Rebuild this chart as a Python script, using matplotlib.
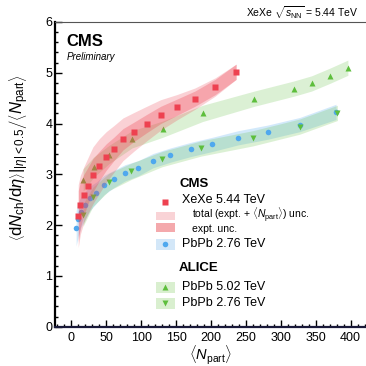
import matplotlib
matplotlib.use("Agg")
import matplotlib.pyplot as plt
from matplotlib.patches import Rectangle
from matplotlib.ticker import MultipleLocator
import numpy as np

plt.rcParams['font.family'] = ['Liberation Sans', 'DejaVu Sans']
plt.rcParams['mathtext.fontset'] = 'custom'
plt.rcParams['mathtext.rm'] = 'Liberation Sans'
plt.rcParams['mathtext.it'] = 'Liberation Sans:italic'
plt.rcParams['mathtext.bf'] = 'Liberation Sans:bold'

# CMS XeXe 5.44 TeV
xexe_npart = [10, 13, 18, 24, 31, 40, 50, 61, 74, 90, 108, 128, 151, 177, 206, 236]
xexe_val = [2.18, 2.40, 2.60, 2.78, 2.98, 3.16, 3.34, 3.50, 3.69, 3.84, 4.00, 4.17, 4.32, 4.49, 4.72, 5.02]
xexe_tot = [0.62, 0.58, 0.55, 0.55, 0.56, 0.54, 0.50, 0.46, 0.42, 0.38, 0.34, 0.30, 0.25, 0.21, 0.18, 0.15]
xexe_exp = [0.50, 0.45, 0.40, 0.36, 0.33, 0.29, 0.26, 0.23, 0.21, 0.19, 0.18, 0.17, 0.16, 0.15, 0.15, 0.15]

# CMS PbPb 2.76 TeV
cms276_npart = [7, 10, 14, 20, 27, 36, 47, 61, 77, 96, 117, 142, 171, 202, 239, 281, 327, 379]
cms276_val = [1.94, 2.12, 2.26, 2.39, 2.53, 2.64, 2.79, 2.91, 3.03, 3.12, 3.27, 3.38, 3.49, 3.59, 3.72, 3.83, 3.98, 4.23]
cms276_unc = [0.35, 0.33, 0.30, 0.27, 0.24, 0.21, 0.19, 0.17, 0.16, 0.15, 0.14, 0.14, 0.14, 0.14, 0.14, 0.14, 0.14, 0.15]

# ALICE PbPb 5.02 TeV
al502_npart = [17, 32, 54, 87, 131, 188, 262, 319, 344, 370, 396]
al502_val = [2.89, 3.14, 3.39, 3.69, 3.89, 4.20, 4.49, 4.69, 4.79, 4.94, 5.10]
al502_unc = [0.22, 0.20, 0.18, 0.17, 0.16, 0.16, 0.15, 0.15, 0.15, 0.15, 0.15]

# ALICE PbPb 2.76 TeV
al276_npart = [17, 31, 54, 86, 130, 186, 260, 327, 381]
al276_val = [2.20, 2.56, 2.85, 3.06, 3.30, 3.51, 3.71, 3.94, 4.21]
al276_unc = [0.22, 0.19, 0.17, 0.16, 0.15, 0.15, 0.15, 0.15, 0.15]

RED = '#EE4150'
BLUE = '#4FA8EE'
GREEN = '#5DBE3C'

W = 366
fig = plt.figure(figsize=(3.66, 3.66), dpi=100)
ax = fig.add_axes([55/W, 1-326.7/W, 310/W, (326.7-22)/W])

def band(x, y, e, color, alpha, z):
    x = np.asarray(x); y = np.asarray(y); e = np.asarray(e)
    ax.fill_between(x, y-e, y+e, color=color, alpha=alpha, lw=0, zorder=z)

band(cms276_npart, cms276_val, cms276_unc, BLUE, 0.25, 1)
band(al276_npart, al276_val, al276_unc, GREEN, 0.22, 1)
band(al502_npart, al502_val, al502_unc, GREEN, 0.22, 1)

ax.plot(cms276_npart, cms276_val, 'o', color=BLUE, ms=4, mec='none', zorder=2)
ax.plot(al276_npart, al276_val, 'v', color=GREEN, ms=5, mec='none', zorder=2)
ax.plot(al502_npart, al502_val, '^', color=GREEN, ms=5, mec='none', zorder=2)

band(xexe_npart, xexe_val, xexe_tot, RED, 0.24, 3)
band(xexe_npart, xexe_val, xexe_exp, RED, 0.30, 3)
ax.plot(xexe_npart, xexe_val, 's', color=RED, ms=4, mec='none', zorder=4)

ax.set_xlim(-23.3, 420.5)
ax.set_ylim(0, 6)
ax.xaxis.set_major_locator(MultipleLocator(50))
ax.xaxis.set_minor_locator(MultipleLocator(10))
ax.yaxis.set_major_locator(MultipleLocator(1))
ax.yaxis.set_minor_locator(MultipleLocator(0.2))
ax.tick_params(which='both', direction='in', labelsize=9, colors='black', width=1.0)
ax.tick_params(which='major', length=5)
ax.tick_params(which='minor', length=2.5)
ax.tick_params(axis='x', pad=4)
ax.tick_params(axis='y', pad=2)
ax.spines['right'].set_visible(False)
ax.spines['top'].set_linewidth(0.8)
ax.spines['top'].set_color('#555555')
ax.spines['left'].set_linewidth(1.6)
ax.spines['bottom'].set_linewidth(1.6)
ax.spines['bottom'].set_color('#1a1a3a')

def px(x, y):
    return x / W, 1 - y / W

fig.text(*px(210, 355), r'$\langle N_{\mathrm{part}}\rangle$', ha='center', va='center', fontsize=10.5)
fig.text(*px(19, 158), r'$\left.\left\langle \mathrm{d}N_{\mathrm{ch}}/\mathrm{d}\eta \right\rangle\right|_{|\eta| < 0.5}\left/\left\langle N_{\mathrm{part}}\right\rangle\right.$',
         ha='center', va='center', rotation=90, fontsize=12)
fig.text(*px(358, 13), r'XeXe $\sqrt{s_{\mathrm{NN}}}$ = 5.44 TeV', ha='right', va='center', fontsize=7.5)

fig.text(*px(66, 42), 'CMS', ha='left', va='center', fontsize=12, fontweight='bold')
fig.text(*px(67, 57), 'Preliminary', ha='left', va='center', fontsize=7, style='italic')

# legend
fig.text(*px(179, 184), 'CMS', ha='left', va='center', fontsize=9.5, fontweight='bold')
fig.text(*px(179, 268), 'ALICE', ha='left', va='center', fontsize=9.5, fontweight='bold')

def box(y0, y1, color):
    x0, yb = px(156, y1)
    fig.patches.append(Rectangle((x0, yb), 19/W, (y1-y0)/W, transform=fig.transFigure,
                                 color=color, lw=0, figure=fig))

def mark(y, m, c, s):
    fig.lines.append(plt.Line2D([165/W], [1-y/W], marker=m, color=c, ms=s, mec='none',
                                ls='none', transform=fig.transFigure, figure=fig))

mark(201.5, 's', RED, 4)
fig.text(*px(181.5, 200), 'XeXe 5.44 TeV', ha='left', va='center', fontsize=9)
box(211.5, 219.5, '#F9D3D6')
fig.text(*px(192.5, 214.5), r'total (expt. + $\langle N_{\mathrm{part}}\rangle$) unc.', ha='left', va='center', fontsize=7.5)
box(222.5, 231.5, '#F4A9AC')
fig.text(*px(192.5, 228.5), 'expt. unc.', ha='left', va='center', fontsize=7.5)
box(238.5, 250, '#D3E7F8')
mark(244, 'o', BLUE, 4)
fig.text(*px(181.5, 244), 'PbPb 2.76 TeV', ha='left', va='center', fontsize=9)
box(281.5, 292.5, '#D9EFCF')
mark(287, '^', GREEN, 5)
fig.text(*px(181.5, 287), 'PbPb 5.02 TeV', ha='left', va='center', fontsize=9)
box(297.5, 308.5, '#D9EFCF')
mark(303, 'v', GREEN, 5)
fig.text(*px(181.5, 303), 'PbPb 2.76 TeV', ha='left', va='center', fontsize=9)

fig.savefig('out.png', dpi=100)
